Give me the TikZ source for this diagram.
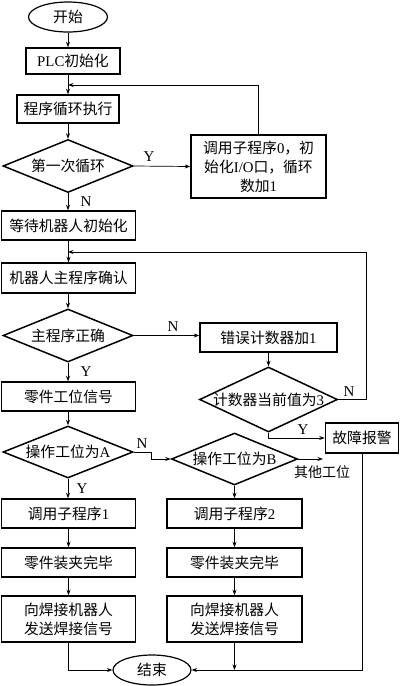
\documentclass[tikz,border=0pt]{standalone}
\usepackage{fontspec}
\setmainfont{Noto Sans CJK SC}
\newfontfamily\lat{Liberation Serif}
\usetikzlibrary{shapes.geometric,arrows.meta}
\begin{document}
\begin{tikzpicture}[x=1pt,y=-1pt,
  txt/.style={font=\fontsize{14.8}{19}\selectfont},
  box/.style={txt,draw,rectangle,line width=1.5pt,inner sep=0pt,align=center},
  dia/.style={txt,draw,diamond,line width=1.5pt,inner sep=0pt},
  term/.style={txt,draw,ellipse,line width=1.2pt,inner sep=0pt},
  arr/.style={line width=0.7pt,-{Stealth[length=5.5pt,width=4pt]}},
  ln/.style={line width=0.7pt},
  lab/.style={font=\lat\fontsize{15}{15}\selectfont,inner sep=0pt},
  clab/.style={font=\fontsize{14}{14}\selectfont,inner sep=0pt}]
\useasboundingbox (0,0) rectangle (400,686);
% left column
\node[term,minimum width=79pt,minimum height=30pt] (start) at (68,17) {开始};
\node[box,minimum width=94pt,minimum height=26pt] (plc) at (73,61) {{\lat PLC}初始化};
\node[box,minimum width=102pt,minimum height=28pt] (exec) at (68,109) {程序循环执行};
\node[dia,minimum width=130pt,minimum height=53pt] (d1) at (68,166) {\makebox[0pt]{第一次循环}};
\node[box,minimum width=135pt,minimum height=63pt] (rb) at (258.5,166.5) {调用子程序{\lat 0}，初\\始化{\lat I/O}口，循环\\数加{\lat 1}};
\node[box,minimum width=134pt,minimum height=29pt] (wait) at (68.5,225.5) {等待机器人初始化};
\node[box,minimum width=134pt,minimum height=30pt] (conf) at (68.5,278) {机器人主程序确认};
\node[dia,minimum width=130pt,minimum height=53pt] (d2) at (68,335.5) {\makebox[0pt]{主程序正确}};
\node[box,minimum width=137pt,minimum height=29pt] (err) at (268.5,337.5) {错误计数器加{\lat 1}};
\node[dia,minimum width=138pt,minimum height=65pt] (d3) at (268.5,399.5) {\makebox[0pt]{计数器当前值为{\lat 3}}};
\node[box,minimum width=73pt,minimum height=30pt] (alarm) at (362,438) {故障报警};
\node[box,minimum width=134pt,minimum height=29pt] (sig) at (68.5,396.5) {零件工位信号};
\node[dia,minimum width=130pt,minimum height=52pt] (dA) at (68,452) {\makebox[0pt]{操作工位为{\lat A}}};
\node[dia,minimum width=126pt,minimum height=52pt] (dB) at (234.5,459) {\makebox[0pt]{操作工位为{\lat B}}};
\node[box,minimum width=134pt,minimum height=29pt] (s1) at (68.5,513.5) {调用子程序{\lat 1}};
\node[box,minimum width=135pt,minimum height=29pt] (s2) at (234.5,513.5) {调用子程序{\lat 2}};
\node[box,minimum width=134pt,minimum height=29pt] (c1) at (68.5,562.5) {零件装夹完毕};
\node[box,minimum width=135pt,minimum height=29pt] (c2) at (234.5,562.5) {零件装夹完毕};
\node[box,minimum width=134pt,minimum height=46pt] (w1) at (68.5,619) {向焊接机器人\\发送焊接信号};
\node[box,minimum width=135pt,minimum height=46pt] (w2) at (234.5,619) {向焊接机器人\\发送焊接信号};
\node[term,minimum width=78pt,minimum height=30pt] (end) at (152,670) {结束};
% coordinates
\coordinate (j1) at (68,85);
\coordinate (j2) at (68,252);
\coordinate (jb) at (151,452);
\coordinate (other) at (323,459);
\coordinate (jw1) at (68.5,670);
\coordinate (jw2) at (234.5,670);
\coordinate (ja) at (362,670);
% connectors
\draw[arr] (start.south) -- (start.south |- plc.north);
\draw[arr] (exec.north |- plc.south) -- (exec.north);
\draw[arr] (exec.south) -- (d1.north);
\draw[arr] (d1.east) -- (rb.west);
\draw[arr] (rb.north) |- (j1);
\draw[arr] (d1.south) -- (d1.south |- wait.north);
\draw[arr] (wait.south -| conf.north) -- (conf.north);
\draw[arr] (d3.east) -- (366,399.5) |- (j2);
\draw[arr] (conf.south -| d2.north) -- (d2.north);
\draw[arr] (d2.east) -- (d2.east -| err.west);
\draw[arr] (err.south) -- (d3.north);
\draw[arr] (d3.south) |- (alarm.west);
\draw[arr] (d2.south) -- (d2.south |- sig.north);
\draw[arr] (sig.south -| dA.north) -- (dA.north);
\draw[arr] (dA.east) -- (jb) |- (dB.west);
\draw[arr] (dB.east) -- (other);
\draw[arr] (dA.south) -- (dA.south |- s1.north);
\draw[arr] (dB.south) -- (s2.north);
\draw[arr] (s1.south) -- (c1.north);
\draw[arr] (c1.south) -- (w1.north);
\draw[arr] (s2.south) -- (c2.north);
\draw[arr] (c2.south) -- (w2.north);
\draw[arr] (w1.south) -- (jw1) -- (end.west);
\draw[arr] (w2.south) -- (jw2);
\draw[arr] (alarm.south) -- (ja) -- (end.east);
% labels
\node[lab] (ly1) at (149,157) {Y};
\node[lab] (ln1) at (86,202) {N};
\node[lab] (ln2) at (349,392) {N};
\node[lab] (ln3) at (173,327) {N};
\node[lab] (ly3) at (303,430) {Y};
\node[lab] (ly2) at (86,372) {Y};
\node[lab] (ln4) at (142,444) {N};
\node[lab] (ly4) at (82,489) {Y};
\node[clab] (lother) at (322,472) {其他工位};
\end{tikzpicture}
\end{document}
